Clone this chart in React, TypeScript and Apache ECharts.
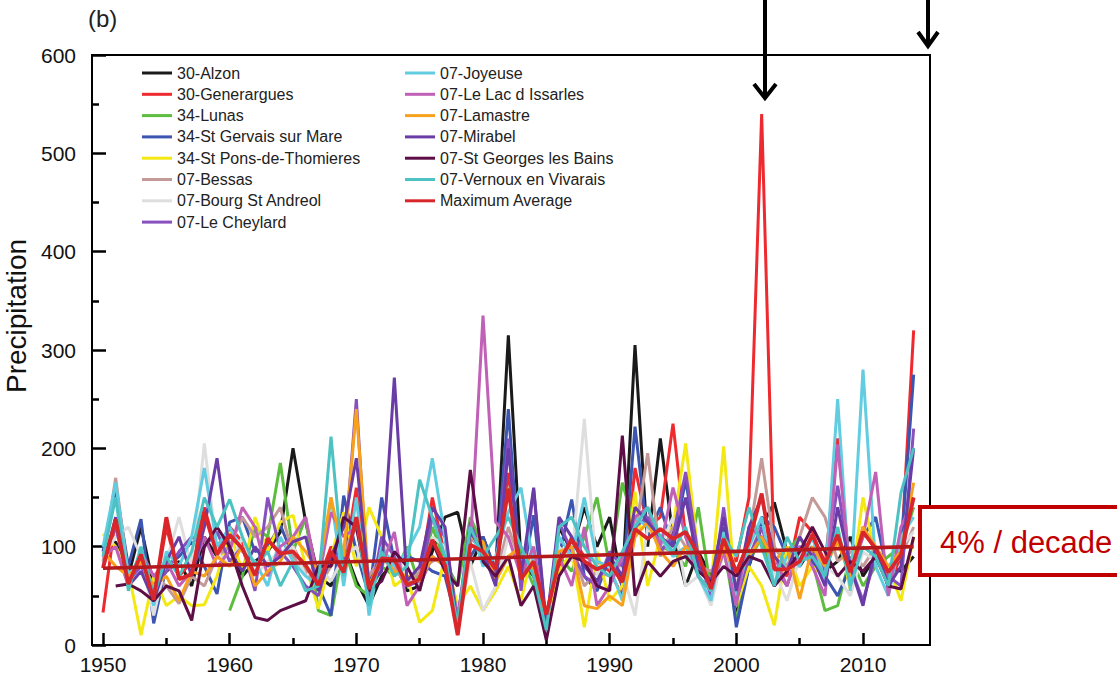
import React, { useEffect, useRef } from "react";
import * as echarts from "echarts";

const years: number[] = Array.from({ length: 65 }, (_, i) => 1950 + i);
const yTicks = [0, 100, 200, 300, 400, 500, 600];
const xLabels = [1950, 1960, 1970, 1980, 1990, 2000, 2010];
const xMinor = [1955, 1965, 1975, 1985, 1995, 2005];

const alzon = [95, 105, 70, 120, 60, 75, 85, 60, 110, 90,
  100, 70, 85, 95, 115, 200, 125, 70, 60, 100,
  65, 40, 70, 85, 55, 60, 95, 130, 135, 80,
  110, 75, 315, 85, 70, 15, 120, 95, 140, 100,
  130, 60, 305, 100, 210, 110, 60, 95, 70, 110,
  30, 80, 120, 145, 95, 80, 100, 75, 85, 110,
  70, 90, 80, 75, 90];
const generargues = [33, 130, 60, 95, 45, 120, 70, 85, 140, 95,
  120, 105, 70, 110, 90, 100, 75, 65, 100, 80,
  160, 45, 90, 85, 65, 70, 150, 90, 15, 110,
  95, 80, 175, 70, 90, 25, 80, 110, 90, 85,
  75, 50, 180, 120, 130, 225, 110, 85, 60, 100,
  85, 150, 540, 80, 70, 130, 115, 80, 210, 70,
  120, 95, 60, 90, 320];
const lunas = [null, null, null, null, null, null, null, null, null, null,
  35, 70, 120, 110, 185, 95, 130, 35, 30, 100,
  60, 50, 80, 70, 100, 60, 120, 85, 60, 130,
  100, 75, 160, 90, 60, 20, 90, 75, 110, 150,
  80, 165, 120, 130, 100, 95, 80, 140, 55, 100,
  25, 85, 110, 60, 95, 110, 85, 35, 40, 90,
  60, 80, 90, 100, 140];
const stGervais = [95, 160, 80, 128, 22, 80, 90, 105, 80, 52,
  125, 130, 95, 100, 122, 90, 80, 60, 30, 152,
  95, 50, 150, 85, 90, 85, 75, 70, 20, 90,
  110, 75, 240, 60, 132, 20, 90, 148, 70, 55,
  90, 60, 222, 110, 140, 100, 168, 85, 60, 120,
  18, 80, 130, 120, 90, 100, 85, 70, 50, 80,
  110, 130, 70, 95, 275];
const stPons = [113, 100, 75, 10, 70, 40, 50, 40, 41, 70,
  115, 75, 130, 95, 125, 132, 80, 37, 90, 135,
  80, 140, 110, 60, 70, 23, 35, 90, 40, 60,
  35, 55, 80, 45, 100, 20, 75, 95, 18, 95,
  45, 60, 156, 60, 110, 120, 205, 90, 60, 202,
  40, 80, 60, 20, 100, 60, 80, 70, 120, 55,
  150, 90, 80, 45, 110];
const bessas = [85, 170, 70, 90, 70, 60, 42, 70, 60, 90,
  100, 130, 110, 120, 140, 90, 75, 60, 80, 95,
  120, 70, 90, 80, 60, 75, 85, 90, 30, 110,
  95, 70, 120, 80, 95, 30, 85, 100, 60, 75,
  70, 85, 110, 195, 90, 120, 100, 80, 75, 95,
  60, 110, 190, 100, 80, 110, 150, 130, 85, 95,
  80, 100, 75, 90, 120];
const bourg = [90, 110, 120, 90, 30, 85, 130, 80, 205, 95,
  80, 110, 70, 85, 95, 100, 70, 80, 65, 90,
  100, 60, 80, 95, 70, 60, 110, 100, 20, 85,
  35, 60, 110, 75, 90, 20, 100, 85, 230, 70,
  90, 75, 30, 120, 100, 130, 60, 70, 40, 95,
  60, 100, 120, 75, 45, 90, 110, 80, 70, 50,
  95, 85, 70, 100, 115];
const cheylard = [90, 120, 65, 80, 55, 75, 95, 110, 100, 115,
  85, 100, 55, 150, 95, 80, 60, 50, 95, 85,
  250, 40, 110, 90, 60, 65, 130, 110, 25, 125,
  90, 70, 210, 55, 158, 15, 125, 95, 70, 60,
  95, 80, 120, 130, 95, 110, 176, 90, 50, 140,
  45, 90, 120, 80, 60, 100, 95, 75, 162, 80,
  45, 90, 70, 60, 220];
const joyeuse = [100, 165, 70, 90, 40, 95, 80, 110, 180, 100,
  120, 95, 85, 60, 110, 85, 70, 60, 150, 60,
  150, 30, 100, 80, 95, 120, 190, 110, 20, 120,
  80, 90, 135, 160, 80, 25, 110, 90, 150, 85,
  80, 45, 130, 120, 110, 90, 100, 70, 45, 115,
  50, 100, 130, 60, 90, 80, 110, 65, 250, 55,
  280, 80, 50, 110, 130];
const issarles = [90, 100, 60, 95, 70, 85, 60, 75, 110, 80,
  95, 140, 120, 70, 100, 110, 130, 65, 135, 110,
  120, 55, 80, 115, 40, 60, 90, 80, 30, 100,
  335, 125, 110, 70, 100, 25, 90, 60, 120, 40,
  60, 90, 130, 140, 100, 160, 110, 70, 55, 95,
  40, 120, 110, 90, 60, 100, 80, 50, 204, 70,
  110, 176, 50, 120, 150];
const lamastre = [95, 80, 70, 85, 60, 70, 45, 75, 70, 90,
  80, 100, 60, 75, 85, 110, 95, 75, 150, 90,
  240, 60, 90, 75, 70, 65, 90, 80, 20, 110,
  105, 65, 90, 100, 75, 25, 95, 100, 40, 37,
  50, 40, 110, 125, 95, 80, 100, 90, 60, 100,
  70, 90, 110, 85, 100, 47, 100, 80, 105, 70,
  120, 100, 80, 95, 165];
const mirabel = [80, 130, 60, 75, 45, 85, 110, 70, 120, 190,
  95, 75, 100, 80, 90, 105, 110, 55, 90, 120,
  190, 60, 75, 272, 65, 80, 140, 120, 15, 115,
  95, 60, 200, 70, 160, 20, 130, 110, 80, 65,
  90, 70, 140, 125, 110, 100, 150, 80, 65, 130,
  55, 120, 150, 90, 75, 110, 90, 60, 140, 80,
  40, 100, 60, 80, 200];
const stGeorges = [null, 60, 62, 55, 45, 60, 55, 25, 100, 120,
  100, 60, 28, 25, 35, 40, 45, 80, 80, 130,
  120, 55, 65, 95, 80, 55, 105, 75, 60, 178,
  85, 70, 90, 40, 60, 5, 70, 90, 85, 60,
  55, 213, 50, 85, 70, 85, 90, 75, 64, 80,
  70, 90, 85, 60, 75, 95, 120, 95, 70, 85,
  75, 90, 60, 57, 110];
const vernoux = [90, 150, 55, 100, 50, 90, 70, 95, 150, 120,
  148, 110, 80, 95, 60, 85, 55, 60, 212, 70,
  130, 40, 95, 70, 80, 168, 130, 90, 20, 120,
  90, 110, 130, 100, 70, 15, 120, 130, 100, 80,
  70, 95, 120, 140, 110, 95, 120, 70, 55, 110,
  90, 140, 100, 60, 110, 85, 90, 70, 120, 60,
  100, 90, 60, 155, 200];
const maxAverage = [78, 128, 62, 92, 46, 130, 67, 72, 135, 92,
  112, 98, 71, 107, 93, 95, 81, 61, 95, 74,
  130, 57, 88, 87, 61, 67, 107, 81, 10, 102,
  95, 77, 159, 67, 85, 31, 85, 107, 85, 77,
  83, 64, 118, 108, 118, 108, 115, 92, 57, 108,
  74, 105, 154, 77, 77, 85, 112, 83, 112, 74,
  115, 98, 74, 92, 150];
const trendYears = [1950, 2014];
const trendValues = [78, 100];

const stationNames = [
  "30-Alzon", "30-Generargues", "34-Lunas", "34-St Gervais sur Mare",
  "34-St Pons-de-Thomieres", "07-Bessas", "07-Bourg St Andreol", "07-Le Cheylard",
  "07-Joyeuse", "07-Le Lac d Issarles", "07-Lamastre", "07-Mirabel",
  "07-St Georges les Bains", "07-Vernoux en Vivarais", "Maximum Average",
];
const stationColors = [
  "#1a1a1a", "#ee2a2f", "#5dbd3f", "#3b55b0",
  "#f3e812", "#c49a98", "#dedede", "#8850bf",
  "#62cde0", "#c060b6", "#f7a11d", "#6a3ca6",
  "#5e0e46", "#4cc2c2", "#d8262b",
];
const stationValues = [
  alzon, generargues, lunas, stGervais, stPons, bessas, bourg, cheylard,
  joyeuse, issarles, lamastre, mirabel, stGeorges, vernoux, maxAverage,
];

const FONT = "'Liberation Sans', Arial, Helvetica, sans-serif";

export default function App() {
  const ref = useRef<HTMLDivElement>(null);
  useEffect(() => {
    if (!ref.current) return;
    const chart = echarts.init(ref.current, undefined, { renderer: "svg" });
    const series: any[] = stationNames.map((name, k) => ({
      name,
      type: "line",
      xAxisIndex: 0,
      yAxisIndex: 0,
      symbol: "none",
      connectNulls: false,
      data: years.map((y, i) => [y, stationValues[k][i]]),
      lineStyle: { color: stationColors[k], width: name === "Maximum Average" ? 3.8 : 3 },
      itemStyle: { color: stationColors[k] },
      z: name === "Maximum Average" ? 5 : 2,
    }));
    series.push({
      name: "trend",
      type: "line",
      symbol: "none",
      data: trendYears.map((y, i) => [y, trendValues[i]]),
      lineStyle: { color: "#b3191d", width: 3.6 },
      z: 6,
    });
    const legendBase = {
      orient: "vertical",
      icon: "rect",
      itemWidth: 30,
      itemHeight: 3,
      itemGap: 5.3,
      textStyle: { fontSize: 16, fontFamily: FONT, color: "#222", lineHeight: 16 },
    };
    chart.setOption({
      animation: false,
      backgroundColor: "#fff",
      grid: {
        left: 92, top: 55, width: 838, height: 590,
        show: true, borderColor: "#000", borderWidth: 2, backgroundColor: "transparent",
      },
      legend: [
        { ...legendBase, left: 137, top: 60, data: stationNames.slice(0, 8) },
        { ...legendBase, left: 400, top: 60, data: stationNames.slice(8) },
      ],
      xAxis: [
        {
          type: "value", min: 1949.13, max: 2015.29,
          axisLine: { show: true, lineStyle: { color: "#000", width: 2 } },
          axisTick: { show: true, inside: true, length: 12, customValues: xLabels, lineStyle: { color: "#000", width: 2.5 } },
          axisLabel: { customValues: xLabels, fontSize: 21, fontFamily: FONT, color: "#111", margin: 9, formatter: (v: number) => String(v) },
          splitLine: { show: false },
        },
        {
          type: "value", min: 1949.13, max: 2015.29, position: "bottom",
          axisLine: { show: false },
          axisTick: { show: true, inside: true, length: 7, customValues: xMinor, lineStyle: { color: "#000", width: 2.5 } },
          axisLabel: { show: false, customValues: xMinor },
          splitLine: { show: false },
        },
      ],
      yAxis: {
        type: "value", min: 0, max: 600, interval: 100,
        axisLine: { show: true, lineStyle: { color: "#000", width: 2 } },
        axisTick: { show: true, inside: true, length: 14, lineStyle: { color: "#000", width: 2.5 } },
        minorTick: { show: true, splitNumber: 2, length: 7, lineStyle: { color: "#000", width: 2.5 } },
        axisLabel: { fontSize: 21, fontFamily: FONT, color: "#111", margin: 16, formatter: (v: number) => (yTicks.includes(v) ? String(v) : "") },
        splitLine: { show: false },
        minorSplitLine: { show: false },
      },
      series,
      graphic: [
        { type: "text", left: 88, top: 6, z: 100, style: { text: "(b)", fontSize: 24, fontFamily: FONT, fill: "#222" } },
        {
          type: "text", x: 16, y: 316, rotation: Math.PI / 2, z: 100,
          style: { text: "Precipitation", fontSize: 28, fontFamily: FONT, fill: "#111", align: "center", verticalAlign: "middle" },
        },
        { type: "line", z: 100, shape: { x1: 765, y1: 0, x2: 765, y2: 97 }, style: { stroke: "#000", lineWidth: 4 } },
        { type: "polyline", z: 100, shape: { points: [[754, 84], [765, 98], [776, 84]] }, style: { stroke: "#000", lineWidth: 4, fill: null } },
        { type: "line", z: 100, shape: { x1: 928, y1: 0, x2: 928, y2: 44 }, style: { stroke: "#000", lineWidth: 4 } },
        { type: "polyline", z: 100, shape: { points: [[918, 32], [928, 46], [938, 32]] }, style: { stroke: "#000", lineWidth: 4, fill: null } },
        { type: "rect", z: 100, shape: { x: 920, y: 507, width: 220, height: 68 }, style: { fill: "#fff", stroke: "#c00000", lineWidth: 4 } },
        { type: "text", z: 101, x: 940, y: 542, style: { text: "4% / decade", fontSize: 31, fontFamily: FONT, fill: "#c00000", verticalAlign: "middle" } },
      ],
    });
    return () => chart.dispose();
  }, []);
  return <div ref={ref} style={{ position: "fixed", left: 0, top: 0, width: 1117, height: 677 }} />;
}
